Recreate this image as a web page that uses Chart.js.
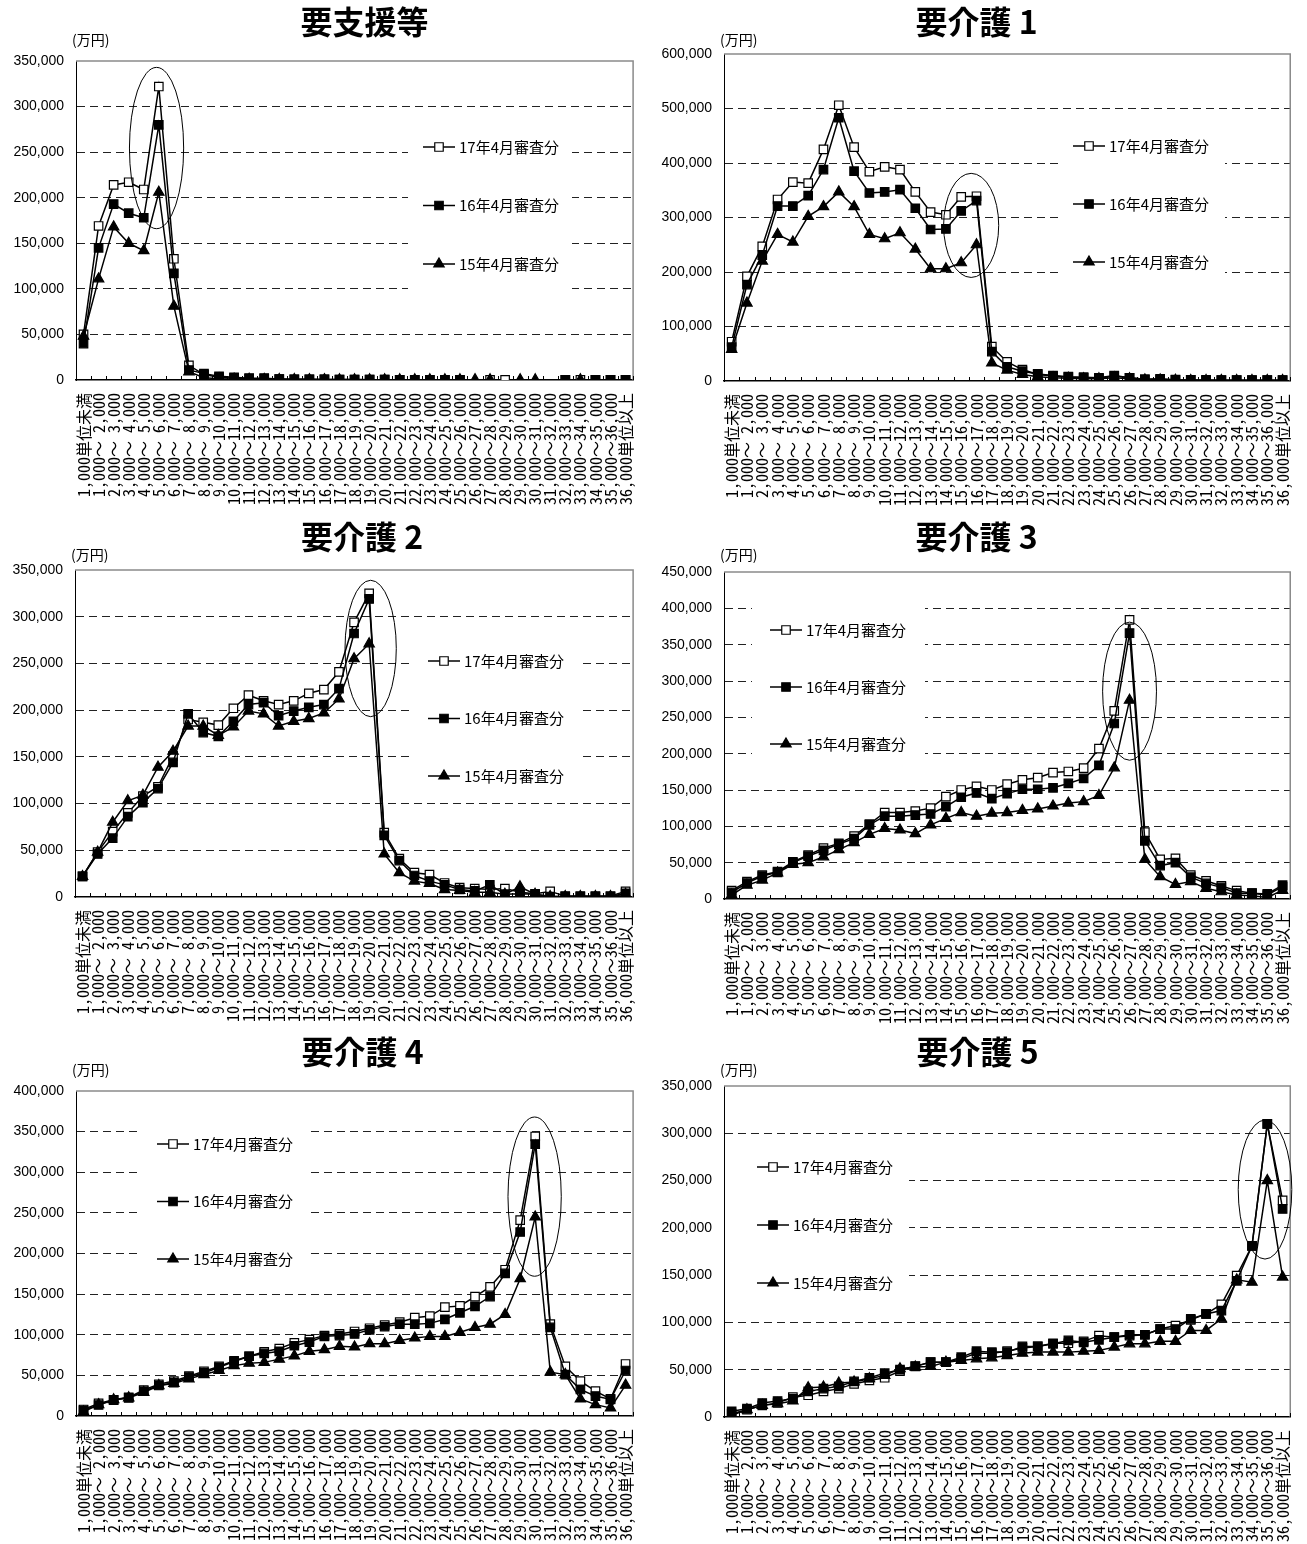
<!DOCTYPE html>
<html>
<head>
<meta charset="utf-8">
<script src="https://cdn.jsdelivr.net/npm/chart.js@4.4.0/dist/chart.umd.min.js"></script>
<style>
body { margin: 0; background: #fff; }
#wrap { position: relative; width: 1307px; height: 1544px; }
#wrap canvas { position: absolute; }
</style>
</head>
<body>
<div id="wrap">
  <canvas id="c1" width="650" height="515" style="left:0;top:0"></canvas>
  <canvas id="c2" width="657" height="515" style="left:650px;top:0"></canvas>
  <canvas id="c3" width="650" height="515" style="left:0;top:515px"></canvas>
  <canvas id="c4" width="657" height="515" style="left:650px;top:515px"></canvas>
  <canvas id="c5" width="650" height="514" style="left:0;top:1030px"></canvas>
  <canvas id="c6" width="657" height="514" style="left:650px;top:1030px"></canvas>
</div>
<script>
// categories (単位数の階級)
const bandLabels = [
  '1,000単位未満',
  '1,000～ 2,000', '2,000～ 3,000', '3,000～ 4,000', '4,000～ 5,000', '5,000～ 6,000',
  '6,000～ 7,000', '7,000～ 8,000', '8,000～ 9,000', '9,000～10,000', '10,000～11,000',
  '11,000～12,000', '12,000～13,000', '13,000～14,000', '14,000～15,000', '15,000～16,000',
  '16,000～17,000', '17,000～18,000', '18,000～19,000', '19,000～20,000', '20,000～21,000',
  '21,000～22,000', '22,000～23,000', '23,000～24,000', '24,000～25,000', '25,000～26,000',
  '26,000～27,000', '27,000～28,000', '28,000～29,000', '29,000～30,000', '30,000～31,000',
  '31,000～32,000', '32,000～33,000', '33,000～34,000', '34,000～35,000', '35,000～36,000',
  '36,000単位以上'
];
const seriesNames = ['17年4月審査分', '16年4月審査分', '15年4月審査分'];
const titles = ['要支援等', '要介護 1', '要介護 2', '要介護 3', '要介護 4', '要介護 5'];
const yMaxes = [350000, 600000, 350000, 450000, 400000, 350000];
const ySteps = [50000, 100000, 50000, 50000, 50000, 50000];

// 要支援等 (万円)
const shienH17 = [50000,169000,214000,217000,209000,322000,133000,16000,6000,3000,2000,1500,1500,1000,800,700,600,500,500,400,400,300,300,300,300,200,null,200,200,null,null,null,100,100,100,100,100];
const shienH16 = [40000,145000,193000,183000,178000,280000,117000,11000,7000,4000,3000,2000,2000,1000,800,700,600,500,500,400,400,300,300,300,300,200,null,null,null,null,null,null,200,null,200,200,200];
const shienH15 = [48000,111000,168000,150000,142000,206000,81000,9000,2500,1500,1000,800,700,600,500,400,400,300,300,300,200,200,200,200,200,200,400,300,null,300,200,null,null,200,null,null,null];

// 要介護1
const kaigo1H17 = [72000,192000,247000,333000,365000,363000,425000,506000,429000,384000,393000,388000,347000,310000,305000,338000,339000,63000,35000,21000,12000,9000,7000,6000,5000,9000,6000,3000,4000,2500,2000,2000,1500,1500,1500,1500,1500];
const kaigo1H16 = [62000,177000,231000,321000,321000,340000,388000,483000,385000,345000,347000,351000,317000,278000,279000,312000,331000,54000,26000,18000,13000,10000,8000,7000,6000,10000,6000,3000,3000,2000,2000,1500,1500,1500,1500,1500,1500];
const kaigo1H15 = [58000,143000,220000,269000,255000,302000,320000,347000,320000,269000,261000,272000,242000,206000,206000,217000,250000,33000,20000,12000,8000,6000,5000,4000,4000,6000,4000,2000,2000,1500,1000,1000,1000,1000,1000,1000,1000];

// 要介護2
const kaigo2H17 = [22000,48000,70000,90000,108000,118000,151000,190000,187000,184000,202000,216000,210000,206000,210000,218000,222000,241000,294000,325000,69000,41000,26000,24000,15000,10000,9000,8000,9000,5000,3500,6000,1000,1000,1000,1000,6000];
const kaigo2H16 = [22000,46000,63000,86000,101000,116000,144000,196000,176000,172000,188000,206000,208000,194000,199000,203000,206000,223000,282000,319000,66000,39000,23000,17000,13000,8000,6500,13000,3000,3500,3000,500,500,500,500,500,4000];
const kaigo2H15 = [22000,48000,80000,103000,109000,139000,156000,183000,183000,173000,182000,199000,196000,183000,188000,191000,197000,212000,255000,271000,46000,26000,17000,14500,8000,7000,5000,5000,3000,11000,3000,500,500,500,500,500,3000];

// 要介護3
const kaigo3H17 = [11500,24000,33000,37600,51000,60500,70000,76500,86600,103000,119000,119000,121000,125000,141000,150000,155000,150000,158000,164000,167000,174000,175500,180000,207000,259000,384000,92000,54500,56000,33000,25000,18000,11500,8000,5500,17000];
const kaigo3H16 = [9000,22000,31600,36700,50000,59000,67000,75600,83000,102000,114000,114000,115500,117000,127000,140000,146000,138000,145000,151000,151000,153000,159000,166000,184000,241500,366000,80000,46000,50000,30000,21500,16000,8000,8000,7000,19000];
const kaigo3H15 = [5500,19000,26000,36000,47700,50000,58000,68000,77500,89000,97000,95000,90000,102000,111000,119000,114000,118000,119000,122000,124000,128000,132000,134000,142500,180500,273600,54500,30700,20000,24000,14700,10000,5500,4500,2000,12000];

// 要介護4
const kaigo4H17 = [8000,15500,20000,23000,32000,39000,43000,49000,55000,61000,68000,73500,79000,83000,90000,94000,99000,101000,104000,108000,112000,115500,121000,123000,134000,135500,147000,159000,180000,241000,344000,113000,61000,43000,30600,21000,64000];
const kaigo4H16 = [7000,13500,19600,22400,30600,37500,41000,48000,53000,60000,67000,73500,77000,79600,86500,91000,98000,99000,101000,106000,110000,113000,113000,114000,119000,127000,135000,147000,175500,226500,334700,109000,51000,32600,24500,20400,56000];
const kaigo4H15 = [5000,14000,20000,22400,29000,37500,40000,45700,51000,56000,62000,65000,66000,70000,74000,79600,81600,85700,85000,89000,89000,93000,96000,98000,98000,103000,109000,113000,125000,169000,245000,54000,51000,21000,14000,10000,38000];

// 要介護5
const kaigo5H17 = [3500,7700,12300,14800,21000,23000,27000,30000,35000,38700,41500,48500,53500,58000,58000,61500,67500,67500,69600,73000,74600,78000,78000,80000,86000,84400,86000,87000,93000,96700,102700,109000,119000,149500,181000,310000,229000];
const kaigo5H16 = [6000,8800,14800,16900,19300,27000,30000,32400,37600,41500,46400,50000,53800,58000,58000,63300,69600,68600,68600,74600,74600,77400,81000,79000,81600,84400,87000,87000,93000,93000,103800,109000,112500,144000,181000,310000,220000];
const kaigo5H15 = [1800,7700,12300,14000,16900,31000,31700,35900,37000,40500,44000,51000,52800,53500,58000,59800,61500,62600,65000,67500,68600,68600,68600,69600,70300,73900,77400,77400,80000,80000,91500,91500,103800,145000,142500,250000,148000];

const allSeries = [
  [shienH17, shienH16, shienH15],
  [kaigo1H17, kaigo1H16, kaigo1H15],
  [kaigo2H17, kaigo2H16, kaigo2H15],
  [kaigo3H17, kaigo3H16, kaigo3H15],
  [kaigo4H17, kaigo4H16, kaigo4H15],
  [kaigo5H17, kaigo5H16, kaigo5H15]
];

// ellipse marks around the peak (category index centre, half width in categories, value range)
const ellipses = [
  {cx: 4.85, rx: 1.8, lo: 166000, hi: 343000},
  {cx: 15.65, rx: 1.8, lo: 190000, hi: 381000},
  {cx: 19.1, rx: 1.7, lo: 193000, hi: 339000},
  {cx: 26.0, rx: 1.76, lo: 191000, hi: 381000},
  {cx: 29.96, rx: 1.77, lo: 172000, hi: 368000},
  {cx: 34.85, rx: 1.75, lo: 167000, hi: 314000}
];

// layout: plot area [left, top, right, bottom] inside each canvas, legend box relative to plot area
const layouts = [
  {id: 'c1', w: 650, h: 515, area: [76, 61, 640, 380], full: false, shift: 10, legend: {box: [332, 56, 164, 178], lineX: 347, itemY: 86, step: 58.5}},
  {id: 'c2', w: 657, h: 515, area: [74, 54, 641, 381], full: true, shift: 6, legend: {box: [336, 62, 165, 176], lineX: 349, itemY: 92, step: 58}},
  {id: 'c3', w: 650, h: 515, area: [75, 55, 640, 382], full: false, shift: 8, legend: {box: [338, 61, 165, 169], lineX: 353, itemY: 91, step: 57.5}},
  {id: 'c4', w: 657, h: 515, area: [74, 57, 641, 384], full: true, shift: 6, legend: {box: [28, 28, 173, 170], lineX: 46, itemY: 58, step: 57}},
  {id: 'c5', w: 650, h: 514, area: [76, 61, 643, 386], full: false, shift: 8, legend: {box: [65, 27, 166, 167], lineX: 81, itemY: 53, step: 57.5}},
  {id: 'c6', w: 657, h: 514, area: [74, 56, 643, 387], full: true, shift: 6, legend: {box: [1, 54, 184, 165], lineX: 33, itemY: 81, step: 58}}
];

const CJK = "'Noto Sans CJK JP', sans-serif";
const MONO = "'Noto Sans Mono CJK JP', 'DejaVu Sans Mono', monospace";
const NUM = "'Liberation Sans', Arial, sans-serif";
const TITLE_SIZE = 32;
Chart.defaults.color = '#000';

// nudge the title block sideways to sit where the original title sits
const titleShiftPlugin = {
  id: 'titleShift',
  afterLayout(chart, args, o) {
    if (chart.titleBlock && o.px) {
      chart.titleBlock.left += 2 * o.px;
    }
  }
};

const framePlugin = {
  id: 'frame',
  beforeDatasetsDraw(chart) {
    const a = chart.chartArea, c = chart.ctx, xs = chart.scales.x;
    c.save();
    c.strokeStyle = '#8a8a8a';
    c.lineWidth = 1.5;
    c.beginPath();
    c.moveTo(a.left, a.top);
    c.lineTo(a.right, a.top);
    c.lineTo(a.right, a.bottom);
    c.stroke();
    // small ticks between categories, pointing into the plot
    c.strokeStyle = '#000';
    c.lineWidth = 1;
    c.beginPath();
    for (let i = 0; i <= bandLabels.length; i++) {
      const x = Math.round(xs.getPixelForValue(i - 0.5)) + 0.5;
      c.moveTo(x, a.bottom);
      c.lineTo(x, a.bottom - 4);
    }
    c.stroke();
    c.restore();
  }
};

const boxLegendPlugin = {
  id: 'boxLegend',
  beforeDatasetsDraw(chart, args, o) {
    const a = chart.chartArea, c = chart.ctx;
    c.save();
    c.fillStyle = '#fff';
    c.fillRect(a.left + o.box[0], a.top + o.box[1], o.box[2], o.box[3]);
    c.restore();
  },
  afterDraw(chart, args, o) {
    const a = chart.chartArea, c = chart.ctx;
    c.save();
    chart.data.datasets.forEach((ds, i) => {
      const y = a.top + o.itemY + i * o.step;
      const x0 = a.left + o.lineX;
      c.strokeStyle = '#000';
      c.lineWidth = 1.5;
      c.beginPath();
      c.moveTo(x0, y);
      c.lineTo(x0 + 32, y);
      c.stroke();
      c.fillStyle = ds.pointBackgroundColor;
      c.lineWidth = 1.2;
      Chart.helpers.drawPoint(c, {pointStyle: ds.pointStyle, radius: 6, borderWidth: 1.2, rotation: 0}, x0 + 16, y);
      c.fillStyle = '#000';
      c.font = '15px ' + CJK;
      c.textBaseline = 'middle';
      c.textAlign = 'left';
      c.fillText(ds.label, x0 + 36, y);
    });
    c.restore();
  }
};

const ellipsePlugin = {
  id: 'peakEllipse',
  afterDatasetsDraw(chart, args, o) {
    const xs = chart.scales.x, ys = chart.scales.y, c = chart.ctx;
    const cx = xs.getPixelForValue(o.cx);
    const rx = xs.getPixelForValue(o.cx + o.rx) - cx;
    const yTop = ys.getPixelForValue(o.hi), yBot = ys.getPixelForValue(o.lo);
    c.save();
    c.strokeStyle = '#000';
    c.lineWidth = 1;
    c.beginPath();
    c.ellipse(cx, (yTop + yBot) / 2, rx, (yBot - yTop) / 2, 0, 0, Math.PI * 2);
    c.stroke();
    c.restore();
  }
};

const unitPlugin = {
  id: 'unitLabel',
  afterDraw(chart) {
    const c = chart.ctx, a = chart.chartArea;
    c.save();
    c.fillStyle = '#000';
    c.font = '14px ' + CJK;
    c.textBaseline = 'middle';
    c.textAlign = 'left';
    c.fillText('(万円)', a.left - 4, 40);
    c.restore();
  }
};

function build(k) {
  const L = layouts[k];
  const yMax = yMaxes[k];
  const s = allSeries[k];
  const common = {borderColor: '#000', borderWidth: 1.5, pointBorderColor: '#000', pointBorderWidth: 1.2,
    pointRadius: 6, pointHoverRadius: 6, tension: 0, spanGaps: false, fill: false};
  new Chart(document.getElementById(L.id), {
    type: 'line',
    data: {
      labels: bandLabels,
      datasets: [
        Object.assign({label: seriesNames[0], data: s[0], pointStyle: 'rect', pointBackgroundColor: '#fff', order: 3}, common),
        Object.assign({label: seriesNames[1], data: s[1], pointStyle: 'rect', pointBackgroundColor: '#000', order: 2}, common),
        Object.assign({label: seriesNames[2], data: s[2], pointStyle: 'triangle', pointBackgroundColor: '#000', order: 1}, common)
      ]
    },
    options: {
      responsive: false,
      animation: false,
      events: [],
      layout: {padding: {left: 0, top: 0, bottom: 0, right: L.w - L.area[2]}},
      plugins: {
        legend: {display: false},
        tooltip: {enabled: false},
        title: {
          display: true, text: titles[k], fullSize: L.full, color: '#000',
          font: {family: CJK, size: TITLE_SIZE, weight: 'bold', lineHeight: 1.2},
          padding: {top: 3, bottom: L.area[1] - 3 - TITLE_SIZE * 1.2}
        },
        titleShift: {px: L.shift},
        boxLegend: L.legend,
        peakEllipse: ellipses[k]
      },
      scales: {
        x: {
          type: 'category',
          offset: true,
          grid: {display: false},
          border: {display: true, color: '#000', width: 1.5},
          ticks: {autoSkip: false, minRotation: 90, maxRotation: 90, padding: 5, color: '#000',
            font: {family: MONO, size: 16}},
          afterFit: sc => { sc.height = L.h - L.area[3]; }
        },
        y: {
          min: 0,
          max: yMax,
          grid: {
            drawTicks: false,
            lineWidth: 1,
            color: c => (c.tick && (c.tick.value === 0 || c.tick.value === yMax)) ? 'rgba(0,0,0,0)' : '#222'
          },
          border: {display: true, color: '#000', width: 1, dash: [8, 5]},
          ticks: {stepSize: ySteps[k], padding: 12, color: '#000', font: {family: NUM, size: 14},
            callback: v => Number(v).toLocaleString('en-US')},
          afterFit: sc => { sc.width = L.area[0]; }
        }
      }
    },
    plugins: [titleShiftPlugin, framePlugin, boxLegendPlugin, ellipsePlugin, unitPlugin]
  });
}

for (let k = 0; k < 6; k++) build(k);
</script>
</body>
</html>
